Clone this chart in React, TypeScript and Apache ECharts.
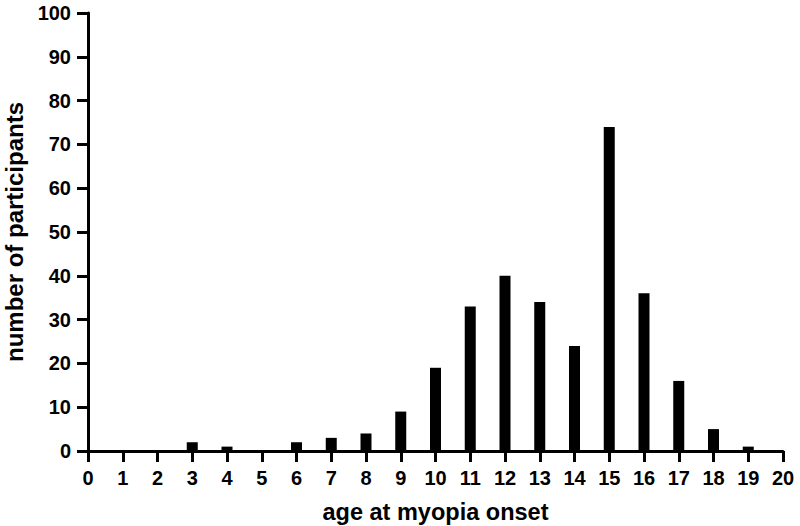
import React, { useEffect, useRef } from "react";
import * as echarts from "echarts";

const ages = [3, 4, 6, 7, 8, 9, 10, 11, 12, 13, 14, 15, 16, 17, 18, 19];
const counts = [2, 1, 2, 3, 4, 9, 19, 33, 40, 34, 24, 74, 36, 16, 5, 1];

export default function App() {
  const ref = useRef<HTMLDivElement>(null);
  useEffect(() => {
    if (!ref.current) return;
    const chart = echarts.init(ref.current, undefined, { renderer: "svg" });
    const font = "'Liberation Sans', Arial, sans-serif";
    chart.setOption({
      animation: false,
      backgroundColor: "#ffffff",
      grid: { left: 88, top: 13, right: 17, bottom: 75, containLabel: false, outerBoundsMode: "none" },
      xAxis: {
        type: "value",
        min: 0,
        max: 20,
        interval: 1,
        name: "age at myopia onset",
        nameLocation: "middle",
        nameGap: 49,
        nameTextStyle: { fontFamily: font, fontWeight: "bold", fontSize: 23.5, color: "#000" },
        axisLine: { show: true, lineStyle: { color: "#000", width: 3 } },
        axisTick: { show: true, length: 11, lineStyle: { color: "#000", width: 3 } },
        axisLabel: { margin: 17, fontFamily: font, fontWeight: "bold", fontSize: 20, color: "#000" },
        splitLine: { show: false },
      },
      yAxis: {
        type: "value",
        min: 0,
        max: 100,
        interval: 10,
        name: "number of participants",
        nameLocation: "middle",
        nameGap: 58,
        nameTextStyle: { fontFamily: font, fontWeight: "bold", fontSize: 24, color: "#000" },
        axisLine: { show: true, lineStyle: { color: "#000", width: 3 } },
        axisTick: { show: true, length: 11, lineStyle: { color: "#000", width: 3 } },
        axisLabel: { margin: 17, fontFamily: font, fontWeight: "bold", fontSize: 20, color: "#000" },
        splitLine: { show: false },
      },
      series: [
        {
          type: "bar",
          barWidth: 11,
          itemStyle: { color: "#000" },
          data: ages.map((a, i) => [a, counts[i]]),
        },
      ],
    });
    return () => chart.dispose();
  }, []);
  return (
    <div
      ref={ref}
      style={{ position: "fixed", left: 0, top: 0, width: 800, height: 526, background: "#fff" }}
    />
  );
}
